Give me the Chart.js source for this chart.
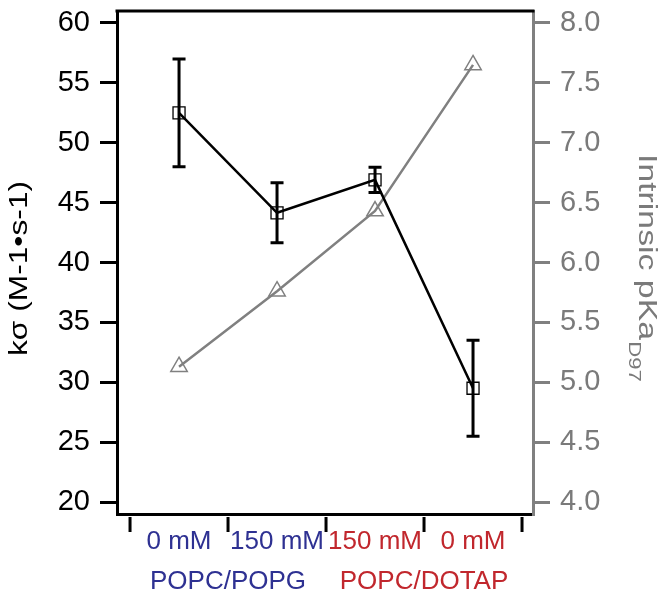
<!DOCTYPE html>
<html><head><meta charset="utf-8">
<script src="https://cdn.jsdelivr.net/npm/chart.js@4/dist/chart.umd.min.js"></script>
<style>html,body{margin:0;padding:0;background:#fff}#wrap{width:664px;height:597px}</style>
</head><body><div id="wrap"><canvas id="c" width="664" height="597"></canvas></div>
<script>
const categories = ['0 mM', '150 mM', '150 mM', '0 mM'];
const groups = ['POPC/POPG', 'POPC/DOTAP'];
const kSigma = [52.5, 44.15, 46.9, 29.5];
const kSigmaErr = [4.5, 2.5, 1.05, 4.0];
const pKa = [5.13, 5.76, 6.43, 7.65];
const kTicks = [20, 25, 30, 35, 40, 45, 50, 55, 60];
const pKaTicks = [4.0, 4.5, 5.0, 5.5, 6.0, 6.5, 7.0, 7.5, 8.0];
const leftTitle = 'k\u03c3 (M-1\u2022s-1)';
const rightTitle = 'Intrinsic pKa';
const rightTitleSub = 'D97';

const BLUE = '#2e3192', RED = '#c1272d', GRAY = '#808080', GRAYTXT = '#7a7a7a';
const catColors = [BLUE, BLUE, RED, RED];
const groupColors = [BLUE, RED];
const FAM = "'Liberation Sans', Arial, Helvetica, sans-serif";

function fitTo(prop, size) {
  return function (s) {
    s[prop] = size;
    s.paddingTop = 0; s.paddingBottom = 0; s.paddingLeft = 0; s.paddingRight = 0;
  };
}

const extras = {
  id: 'extras',
  beforeDatasetsDraw(chart) {
    const ctx = chart.ctx, xs = chart.scales.x, ys = chart.scales.y;
    ctx.save();
    ctx.strokeStyle = '#000';
    ctx.lineWidth = 3;
    kSigma.forEach((v, i) => {
      const x = xs.getPixelForValue(i);
      const yt = ys.getPixelForValue(v + kSigmaErr[i]);
      const yb = ys.getPixelForValue(v - kSigmaErr[i]);
      ctx.beginPath();
      ctx.moveTo(x, yt); ctx.lineTo(x, yb);
      ctx.moveTo(x - 6.5, yt); ctx.lineTo(x + 6.5, yt);
      ctx.moveTo(x - 6.5, yb); ctx.lineTo(x + 6.5, yb);
      ctx.stroke();
    });
    ctx.restore();
  },
  afterDraw(chart) {
    const ctx = chart.ctx, xs = chart.scales.x, a = chart.chartArea;
    ctx.save();
    ctx.strokeStyle = '#000';
    ctx.lineWidth = 3;
    ctx.beginPath();
    ctx.moveTo(a.left - 1.5, a.top); ctx.lineTo(a.right + 1.5, a.top);
    ctx.stroke();
    ctx.beginPath();
    for (let b = 0; b <= categories.length; b++) {
      const x = xs.getPixelForValue(b - 0.5);
      ctx.moveTo(x, a.bottom + 3); ctx.lineTo(x, a.bottom + 18);
    }
    ctx.stroke();
    ctx.restore();

    ctx.save();
    ctx.fillStyle = '#000';
    ctx.font = '26px ' + FAM;
    ctx.textAlign = 'center';
    ctx.textBaseline = 'alphabetic';
    ctx.translate(26.5, (a.top + a.bottom) / 2 + 6);
    ctx.rotate(-Math.PI / 2);
    ctx.scale(1.22, 1);
    ctx.fillText(leftTitle, 0, 0);
    ctx.restore();

    ctx.save();
    ctx.fillStyle = GRAYTXT;
    ctx.font = '26px ' + FAM;
    ctx.textAlign = 'left';
    ctx.textBaseline = 'alphabetic';
    ctx.translate(639, 154);
    ctx.rotate(Math.PI / 2);
    ctx.scale(1.3, 1);
    ctx.fillText(rightTitle, 0, 0);
    const w = ctx.measureText(rightTitle).width;
    ctx.font = '17px ' + FAM;
    ctx.fillText(rightTitleSub, w + 1, 10);
    ctx.restore();
  }
};

new Chart(document.getElementById('c'), {
  type: 'line',
  data: {
    datasets: [
      {
        label: 'k\u03c3',
        data: kSigma.map((v, i) => ({ x: i, y: v })),
        xAxisID: 'x', yAxisID: 'y',
        borderColor: '#000', borderWidth: 2.5,
        pointStyle: 'rect', pointRadius: 8.5, pointBorderWidth: 1.3,
        pointBorderColor: '#000', pointBackgroundColor: 'rgba(0,0,0,0)',
        order: 0
      },
      {
        label: 'pKa',
        data: pKa.map((v, i) => ({ x: i, y: v })),
        xAxisID: 'x', yAxisID: 'y1',
        borderColor: GRAY, borderWidth: 2.5,
        pointStyle: 'triangle', pointRadius: 9.5, pointBorderWidth: 1.5,
        pointBorderColor: GRAY, pointBackgroundColor: 'rgba(0,0,0,0)',
        order: 1
      }
    ]
  },
  options: {
    responsive: false,
    animation: false,
    devicePixelRatio: 1,
    layout: { padding: { top: 3, left: 0, right: 0, bottom: 0 } },
    plugins: { legend: { display: false }, tooltip: { enabled: false } },
    elements: { line: { tension: 0 } },
    scales: {
      x: {
        type: 'linear', position: 'bottom', weight: 0,
        min: -0.633, max: 3.612,
        afterBuildTicks: s => { s.ticks = categories.map((c, i) => ({ value: i })); },
        afterFit: fitTo('height', 42),
        ticks: {
          autoSkip: false, maxRotation: 0, padding: 12,
          font: { family: FAM, size: 26 },
          color: c => catColors[c.index],
          callback: (v, i) => categories[i]
        },
        grid: { display: true, drawOnChartArea: false, drawTicks: false },
        border: { display: true, color: '#000', width: 3 }
      },
      x2: {
        type: 'linear', position: 'bottom', weight: 1,
        min: -0.633, max: 3.612,
        afterBuildTicks: s => { s.ticks = groups.map((g, i) => ({ value: 2 * i + 0.5 })); },
        afterFit: fitTo('height', 41),
        ticks: {
          autoSkip: false, maxRotation: 0, padding: 2,
          font: { family: FAM, size: 26 },
          color: c => groupColors[c.index],
          callback: (v, i) => groups[i]
        },
        grid: { display: false },
        border: { display: false }
      },
      y: {
        type: 'linear', position: 'left',
        min: 19, max: 61,
        afterBuildTicks: s => { s.ticks = kTicks.map(v => ({ value: v })); },
        afterFit: fitTo('width', 117),
        ticks: { padding: 10, color: '#000', font: { family: FAM, size: 29 } },
        grid: { display: true, drawOnChartArea: false, drawTicks: true, tickLength: 17, color: '#000', lineWidth: 3 },
        border: { display: true, color: '#000', width: 3 }
      },
      y1: {
        type: 'linear', position: 'right',
        min: 3.9, max: 8.1,
        afterBuildTicks: s => { s.ticks = pKaTicks.map(v => ({ value: v })); },
        afterFit: fitTo('width', 131),
        ticks: { padding: 10, color: GRAYTXT, font: { family: FAM, size: 29 }, callback: v => Number(v).toFixed(1) },
        grid: { display: true, drawOnChartArea: false, drawTicks: true, tickLength: 17, color: GRAY, lineWidth: 3 },
        border: { display: true, color: GRAY, width: 3 }
      }
    }
  },
  plugins: [extras]
});
</script>
</body></html>
